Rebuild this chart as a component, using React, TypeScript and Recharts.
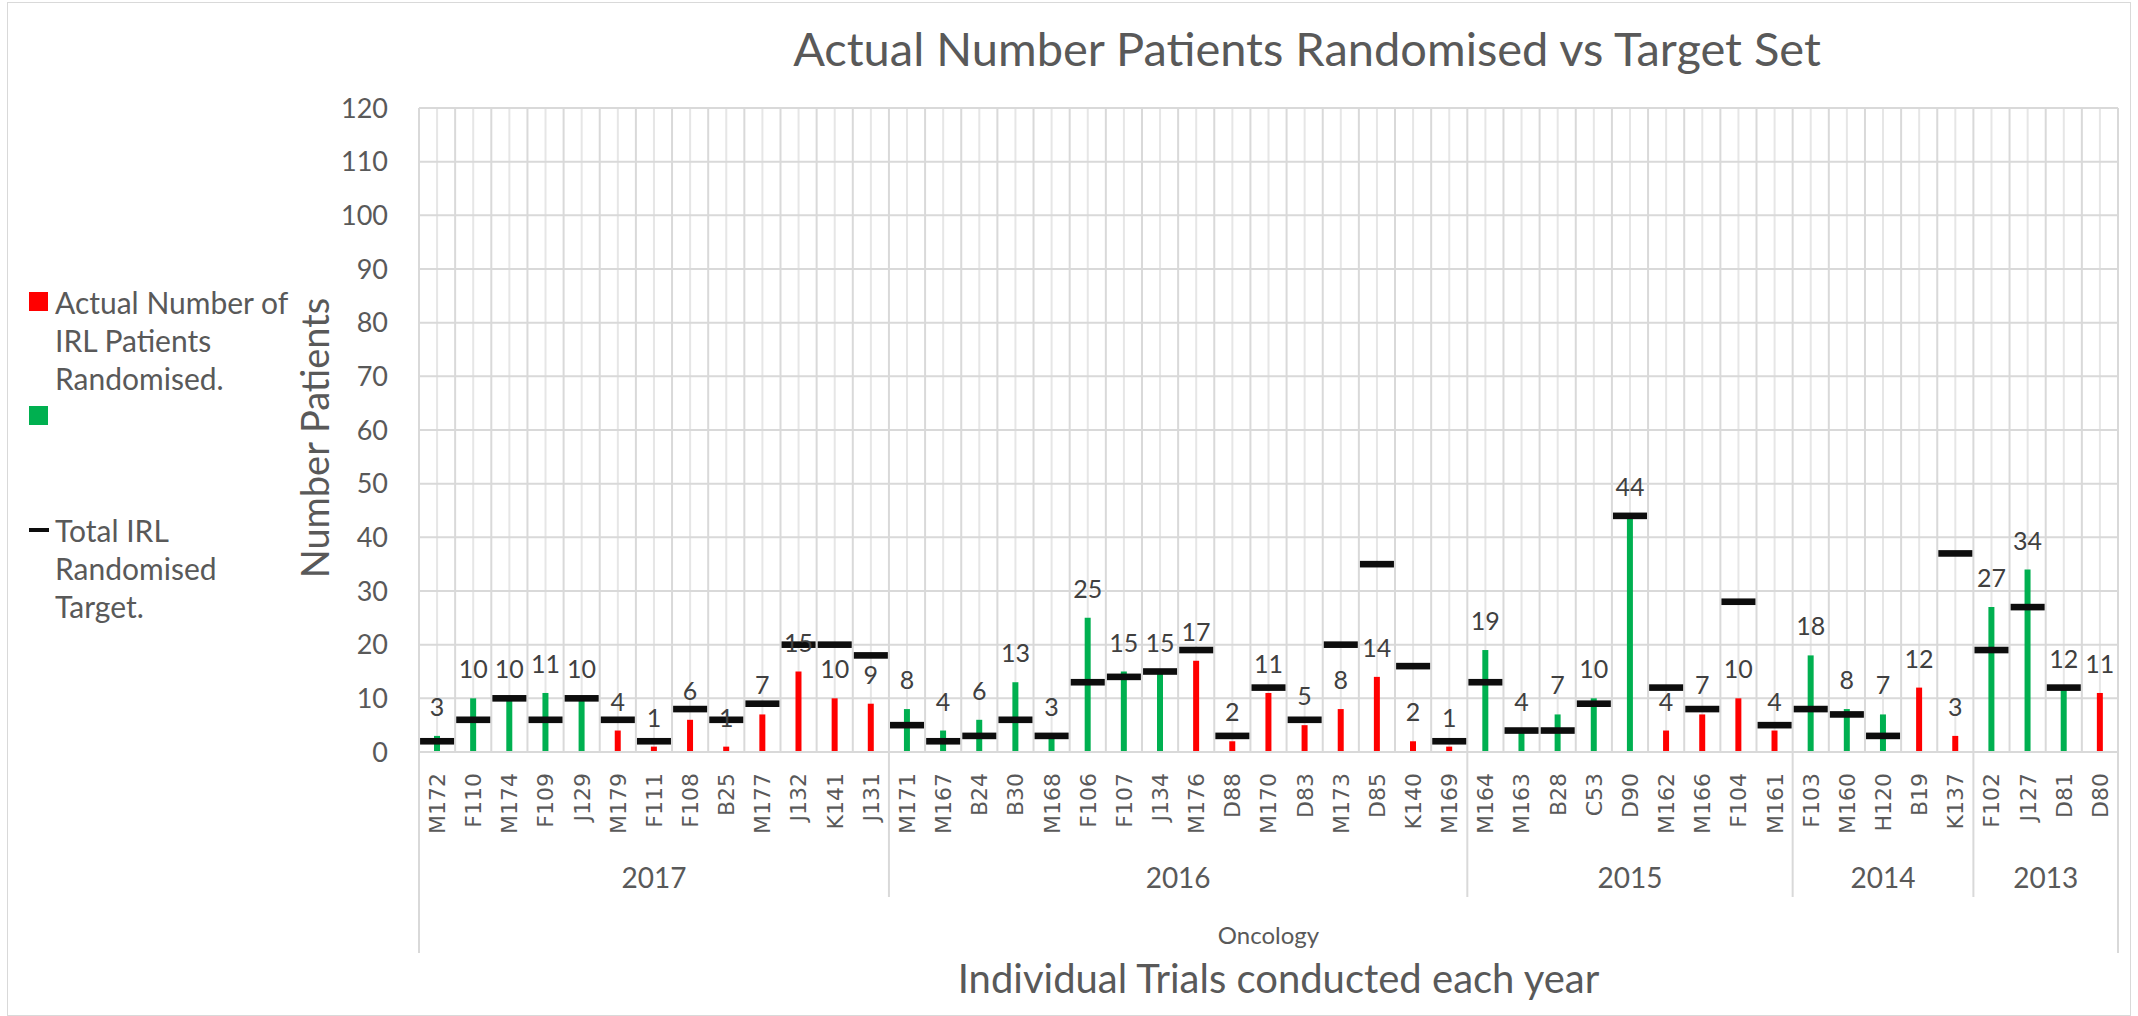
import React from 'react'
import {
  ComposedChart,
  Bar,
  Scatter,
  XAxis,
  YAxis,
  CartesianGrid,
  LabelList,
  Legend,
} from 'recharts'

const TRIALS = [
  'M172', 'F110', 'M174', 'F109', 'J129', 'M179', 'F111', 'F108', 'B25', 'M177', 'J132', 'K141', 'J131',
  'M171', 'M167', 'B24', 'B30', 'M168', 'F106', 'F107', 'J134', 'M176', 'D88', 'M170', 'D83', 'M173', 'D85', 'K140', 'M169',
  'M164', 'M163', 'B28', 'C53', 'D90', 'M162', 'M166', 'F104', 'M161',
  'F103', 'M160', 'H120', 'B19', 'K137',
  'F102', 'J127', 'D81', 'D80',
]
const YEAR_LABELS = ['2017', '2016', '2015', '2014', '2013']
const YEAR_SIZES = [13, 16, 9, 5, 4]
const FIELD = 'Oncology'

const ACTUAL = [
  3, 10, 10, 11, 10, 4, 1, 6, 1, 7, 15, 10, 9,
  8, 4, 6, 13, 3, 25, 15, 15, 17, 2, 11, 5, 8, 14, 2, 1,
  19, 4, 7, 10, 44, 4, 7, 10, 4,
  18, 8, 7, 12, 3,
  27, 34, 12, 11,
]
const TARGET: (number | null)[] = [
  2, 6, 10, 6, 10, 6, 2, 8, 6, 9, 20, 20, 18,
  5, 2, 3, 6, 3, 13, 14, 15, 19, 3, 12, 6, 20, 35, 16, 2,
  13, 4, 4, 9, 44, 12, 8, 28, 5,
  8, 7, 3, null, 37,
  19, 27, 12, null,
]
const Y_TICKS = [0, 10, 20, 30, 40, 50, 60, 70, 80, 90, 100, 110, 120]
const LEGEND_ORDER = ['missed', 'met', 'target']

const YEARS: string[] = YEAR_LABELS.flatMap((y, k) => Array(YEAR_SIZES[k]).fill(y))

const rows = TRIALS.map((name, i) => {
  const t = TARGET[i]
  const met = t != null && ACTUAL[i] >= t
  return {
    name,
    year: YEARS[i],
    field: FIELD,
    missed: met ? null : ACTUAL[i],
    met: met ? ACTUAL[i] : null,
    target: t,
  }
})

const W = 2138
const H = 1016
const MARGIN = { top: 108, right: 20, bottom: 63, left: 290 }
const Y_AXIS_W = 129
const TRIAL_AXIS_H = 93
const YEAR_AXIS_H = 52
const FIELD_AXIS_H = 56
const PLOT_W = W - MARGIN.left - MARGIN.right - Y_AXIS_W
const BAND = PLOT_W / TRIALS.length

const FONT = 'Lato, "Open Sans", sans-serif'
const GREY = '#595959'
const GRID = '#d9d9d9'

function TrialTick(props: any) {
  const { x, y, payload, index } = props
  const first = index === 0 || YEARS[index] !== YEARS[index - 1]
  const last = index === TRIALS.length - 1
  const full = TRIAL_AXIS_H + YEAR_AXIS_H + FIELD_AXIS_H
  return (
    <g>
      <text
        transform={`translate(${x},${y + 21}) rotate(-90)`}
        textAnchor="end"
        dy="0.36em"
        fontFamily='"DejaVu Sans", sans-serif'
        fontSize={22}
        fill={GREY}
      >
        {payload.value}
      </text>
      {first && (
        <line
          x1={x - BAND / 2}
          x2={x - BAND / 2}
          y1={y}
          y2={y + (index === 0 ? full : TRIAL_AXIS_H + YEAR_AXIS_H)}
          stroke={GRID}
          strokeWidth={2}
        />
      )}
      {last && (
        <line x1={x + BAND / 2} x2={x + BAND / 2} y1={y} y2={y + full} stroke={GRID} strokeWidth={2} />
      )}
    </g>
  )
}

function YearTick(props: any) {
  const { x, y, index } = props
  let start = 0
  for (let k = 0; k < YEAR_SIZES.length; k++) {
    if (index === start) {
      return (
        <text
          x={x + ((YEAR_SIZES[k] - 1) / 2) * BAND}
          y={y + 33}
          dy="0.36em"
          textAnchor="middle"
          fontFamily={FONT}
          fontSize={28}
          fill={GREY}
        >
          {YEAR_LABELS[k]}
        </text>
      )
    }
    start += YEAR_SIZES[k]
  }
  return <g />
}

function FieldTick(props: any) {
  const { x, y, index, payload } = props
  if (index !== 0) return <g />
  return (
    <text
      x={x - BAND / 2 + PLOT_W / 2}
      y={y + 38}
      dy="0.36em"
      textAnchor="middle"
      fontFamily={FONT}
      fontSize={24}
      fill={GREY}
    >
      {payload.value}
    </text>
  )
}

function TargetMark(props: any) {
  const { cx, cy, payload } = props
  if (payload?.target == null || cx == null || cy == null || isNaN(cy)) return <g />
  return <rect x={cx - 17} y={cy - 3.3} width={34} height={6.6} fill="#0d0d0d" />
}

function LegendBox(props: any) {
  const items = [...(props.payload || [])].sort(
    (a: any, b: any) => LEGEND_ORDER.indexOf(a.dataKey) - LEGEND_ORDER.indexOf(b.dataKey),
  )
  return (
    <div style={{ fontFamily: FONT, fontSize: 30, color: GREY, lineHeight: '38px', width: 280 }}>
      {items.map((e: any, i: number) => (
        <div key={i} style={{ display: 'flex', height: 114 }}>
          <div style={{ width: 26, height: 38, position: 'relative', flex: 'none' }}>
            {e.type === 'line' ? (
              <div style={{ position: 'absolute', left: 0, top: 17, width: 20, height: 4, background: '#0d0d0d' }} />
            ) : (
              <div style={{ position: 'absolute', left: 0, top: 9, width: 19, height: 19, background: e.color }} />
            )}
          </div>
          <div style={{ width: 250 }}>{e.value}</div>
        </div>
      ))}
    </div>
  )
}

export default function App() {
  return (
    <div style={{ position: 'absolute', left: 0, top: 0, width: W, height: H, background: '#fff' }}>
      <div
        style={{
          position: 'absolute',
          left: 7,
          top: 2,
          width: 2122,
          height: 1012,
          border: `1px solid ${GRID}`,
        }}
      />
      <div
        style={{
          position: 'absolute',
          left: 1307,
          top: 25,
          transform: 'translateX(-50%)',
          whiteSpace: 'nowrap',
          fontFamily: FONT,
          fontSize: 47,
          lineHeight: '47px',
          color: GREY,
        }}
      >
        Actual Number Patients Randomised vs Target Set
      </div>
      <ComposedChart width={W} height={H} data={rows} margin={MARGIN}>
        <CartesianGrid horizontal={false} vertical stroke="#e6e6e6" strokeWidth={2} />
        <CartesianGrid
          horizontal
          vertical
          stroke={GRID}
          strokeWidth={2}
          verticalCoordinatesGenerator={({ offset }: any) =>
            Array.from({ length: TRIALS.length + 1 }, (_, i) => offset.left + (i * offset.width) / TRIALS.length)
          }
        />
        <XAxis
          dataKey="name"
          interval={0}
          height={TRIAL_AXIS_H}
          tickSize={0}
          tickMargin={0}
          tickLine={false}
          axisLine={{ stroke: GRID, strokeWidth: 2 }}
          tick={<TrialTick />}
        />
        <XAxis
          xAxisId="lvl2"
          dataKey="field"
          interval={0}
          height={FIELD_AXIS_H}
          tickSize={0}
          tickMargin={0}
          tickLine={false}
          axisLine={false}
          tick={<FieldTick />}
          label={{
            content: ({ viewBox }: any) => (
              <text
                x={viewBox.x + viewBox.width / 2 + 10}
                y={viewBox.y + viewBox.height + 26}
                dy="0.36em"
                textAnchor="middle"
                fontFamily={FONT}
                fontSize={40}
                fill={GREY}
              >
                Individual Trials conducted each year
              </text>
            ),
          }}
        />
        <XAxis
          xAxisId="lvl1"
          dataKey="year"
          interval={0}
          height={YEAR_AXIS_H}
          tickSize={0}
          tickMargin={0}
          tickLine={false}
          axisLine={false}
          tick={<YearTick />}
        />
        <YAxis
          width={Y_AXIS_W}
          domain={[0, 120]}
          ticks={Y_TICKS}
          interval={0}
          tickSize={0}
          tickMargin={31}
          axisLine={false}
          tickLine={false}
          tick={{ fill: GREY, fontSize: 27, fontFamily: FONT }}
          label={{
            content: ({ viewBox }: any) => {
              const cx = viewBox.x + 25
              const cy = viewBox.y + viewBox.height / 2 + 8
              return (
                <text
                  x={cx}
                  y={cy}
                  dy="0.36em"
                  transform={`rotate(-90 ${cx} ${cy})`}
                  textAnchor="middle"
                  fontFamily={FONT}
                  fontSize={38}
                  fill={GREY}
                >
                  Number Patients
                </text>
              )
            },
          }}
        />
        <Legend
          layout="horizontal"
          verticalAlign="middle"
          align="center"
          content={<LegendBox />}
          wrapperStyle={{ left: 29, top: 283, width: 280, height: 350 }}
        />
        <Bar
          dataKey="missed"
          name="Actual Number of IRL Patients Randomised."
          stackId="a"
          fill="#ff0000"
          barSize={6}
          isAnimationActive={false}
        >
          <LabelList dataKey="missed" position="top" offset={20} fill="#404040" fontSize={25} fontFamily={FONT} />
        </Bar>
        <Bar dataKey="met" name=" " stackId="a" fill="#00b050" barSize={6} isAnimationActive={false}>
          <LabelList dataKey="met" position="top" offset={20} fill="#404040" fontSize={25} fontFamily={FONT} />
        </Bar>
        <Scatter
          dataKey="target"
          name="Total IRL Randomised Target."
          fill="#0d0d0d"
          legendType="line"
          shape={<TargetMark />}
          isAnimationActive={false}
        />
      </ComposedChart>
    </div>
  )
}
